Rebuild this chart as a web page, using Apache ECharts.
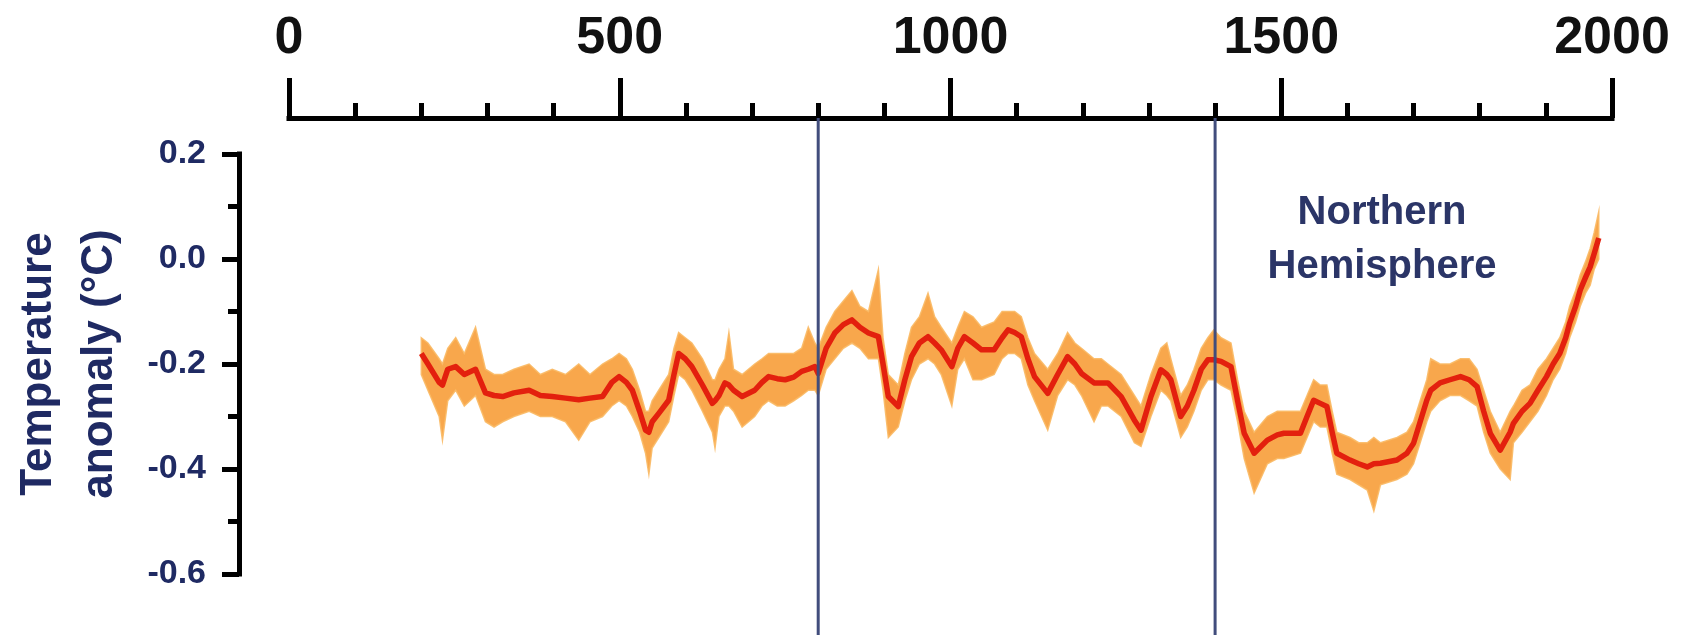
<!DOCTYPE html>
<html>
<head>
<meta charset="utf-8">
<script src="https://cdn.jsdelivr.net/npm/echarts@6/dist/echarts.min.js"></script>
<style>
  html, body { margin: 0; padding: 0; background: #ffffff; }
  #chart { width: 1691px; height: 635px; }
</style>
</head>
<body>
<div id="chart"></div>
<script>
// ---- Data ----
const years = [
  200,210,227,232,240,252,265,282,297,310,
  323,340,363,380,398,418,438,455,474,488,
  499,510,519,530,539,544,549,559,574,582,
  589,599,609,625,640,644,650,659,665,672,
  685,704,715,725,738,750,763,775,785,795,
  800,812,825,838,851,863,876,891,898,906,
  921,931,941,953,966,976,986,1002,1011,1021,
  1034,1047,1066,1078,1087,1097,1107,1117,1127,1147,
  1162,1177,1188,1198,1217,1228,1238,1258,1278,1288,
  1303,1318,1327,1333,1348,1358,1368,1379,1389,1398,
  1409,1424,1434,1444,1459,1479,1494,1504,1529,1539,
  1549,1559,1569,1577,1584,1604,1617,1630,1640,1650,
  1675,1690,1700,1710,1720,1726,1740,1755,1771,1784,
  1796,1806,1816,1831,1846,1851,1864,1876,1888,1901,
  1911,1921,1930,1936,1945,1952,1960,1967,1973,1980
];
const anomaly = [
  -0.18,-0.20,-0.235,-0.24,-0.21,-0.205,-0.22,-0.21,-0.255,-0.26,
  -0.262,-0.255,-0.25,-0.26,-0.262,-0.265,-0.268,-0.265,-0.262,-0.235,
  -0.224,-0.235,-0.25,-0.29,-0.326,-0.33,-0.31,-0.294,-0.269,-0.22,
  -0.18,-0.19,-0.205,-0.24,-0.275,-0.27,-0.26,-0.236,-0.24,-0.25,
  -0.262,-0.25,-0.235,-0.224,-0.228,-0.23,-0.225,-0.214,-0.21,-0.205,
  -0.218,-0.17,-0.141,-0.125,-0.116,-0.13,-0.141,-0.148,-0.20,-0.262,
  -0.281,-0.23,-0.186,-0.16,-0.148,-0.16,-0.173,-0.205,-0.17,-0.148,
  -0.16,-0.173,-0.173,-0.15,-0.135,-0.14,-0.148,-0.19,-0.224,-0.256,
  -0.22,-0.186,-0.20,-0.218,-0.236,-0.236,-0.236,-0.262,-0.307,-0.326,
  -0.262,-0.211,-0.22,-0.23,-0.30,-0.28,-0.25,-0.21,-0.192,-0.192,
  -0.195,-0.205,-0.27,-0.332,-0.37,-0.345,-0.335,-0.332,-0.332,-0.30,
  -0.269,-0.275,-0.281,-0.33,-0.37,-0.383,-0.39,-0.396,-0.39,-0.389,
  -0.383,-0.37,-0.351,-0.31,-0.269,-0.25,-0.236,-0.23,-0.224,-0.23,
  -0.243,-0.29,-0.332,-0.364,-0.33,-0.313,-0.29,-0.275,-0.25,-0.224,
  -0.20,-0.18,-0.15,-0.122,-0.09,-0.059,-0.035,-0.015,0.01,0.04
];
const bandUpper = [
  -0.15,-0.16,-0.19,-0.20,-0.17,-0.15,-0.18,-0.13,-0.21,-0.22,
  -0.22,-0.21,-0.20,-0.22,-0.21,-0.22,-0.20,-0.22,-0.20,-0.19,
  -0.18,-0.19,-0.21,-0.25,-0.29,-0.29,-0.27,-0.25,-0.22,-0.17,
  -0.14,-0.15,-0.16,-0.19,-0.23,-0.23,-0.21,-0.19,-0.14,-0.21,
  -0.22,-0.20,-0.19,-0.18,-0.18,-0.18,-0.18,-0.17,-0.13,-0.16,
  -0.17,-0.13,-0.10,-0.08,-0.06,-0.09,-0.10,-0.02,-0.15,-0.22,
  -0.24,-0.18,-0.13,-0.11,-0.065,-0.11,-0.13,-0.16,-0.13,-0.10,
  -0.11,-0.13,-0.12,-0.10,-0.10,-0.10,-0.11,-0.15,-0.18,-0.21,
  -0.18,-0.14,-0.16,-0.17,-0.19,-0.19,-0.20,-0.22,-0.26,-0.28,
  -0.22,-0.17,-0.16,-0.19,-0.26,-0.24,-0.21,-0.17,-0.15,-0.135,
  -0.15,-0.16,-0.23,-0.29,-0.33,-0.30,-0.29,-0.29,-0.29,-0.26,
  -0.23,-0.24,-0.24,-0.29,-0.33,-0.34,-0.35,-0.35,-0.34,-0.35,
  -0.34,-0.33,-0.31,-0.27,-0.23,-0.19,-0.20,-0.20,-0.19,-0.19,
  -0.21,-0.25,-0.29,-0.33,-0.29,-0.28,-0.25,-0.24,-0.21,-0.19,
  -0.17,-0.15,-0.12,-0.09,-0.06,-0.03,-0.005,0.02,0.05,0.09
];
const bandLower = [
  -0.22,-0.25,-0.30,-0.345,-0.27,-0.25,-0.28,-0.26,-0.31,-0.32,
  -0.31,-0.30,-0.29,-0.30,-0.30,-0.31,-0.345,-0.31,-0.30,-0.28,
  -0.27,-0.28,-0.30,-0.33,-0.37,-0.41,-0.36,-0.34,-0.31,-0.26,
  -0.22,-0.23,-0.25,-0.29,-0.33,-0.36,-0.30,-0.28,-0.28,-0.29,
  -0.32,-0.30,-0.28,-0.27,-0.28,-0.28,-0.27,-0.26,-0.25,-0.25,
  -0.26,-0.21,-0.19,-0.17,-0.16,-0.17,-0.19,-0.19,-0.25,-0.34,
  -0.32,-0.27,-0.23,-0.20,-0.19,-0.20,-0.22,-0.28,-0.21,-0.19,
  -0.23,-0.23,-0.22,-0.19,-0.18,-0.18,-0.19,-0.24,-0.27,-0.326,
  -0.26,-0.23,-0.24,-0.26,-0.31,-0.28,-0.28,-0.30,-0.35,-0.357,
  -0.30,-0.25,-0.26,-0.27,-0.34,-0.32,-0.29,-0.25,-0.23,-0.23,
  -0.24,-0.25,-0.31,-0.38,-0.446,-0.39,-0.38,-0.38,-0.37,-0.34,
  -0.31,-0.32,-0.32,-0.37,-0.41,-0.42,-0.43,-0.44,-0.48,-0.43,
  -0.42,-0.41,-0.39,-0.35,-0.31,-0.29,-0.27,-0.26,-0.26,-0.27,
  -0.28,-0.33,-0.37,-0.40,-0.42,-0.35,-0.33,-0.31,-0.29,-0.26,
  -0.23,-0.21,-0.18,-0.15,-0.12,-0.09,-0.065,-0.05,-0.02,0.00
];
const dividerYears = [800, 1400];
const yTitleLines = ['Temperature', 'anomaly (°C)'];
const regionLabelLines = ['Northern', 'Hemisphere'];

// ---- Layout / style constants ----
const X_AXIS_OFFSET = 36;
const Y_AXIS_OFFSET = 50;
const NAVY = '#1f2a63';
const FONT = '"Liberation Sans", Arial, sans-serif';

const centerData = years.map((y, i) => [y, anomaly[i]]);
const bandData = years.map((y, i) => [y, bandLower[i], bandUpper[i]]);

const chart = echarts.init(document.getElementById('chart'), null, { renderer: 'canvas' });

chart.setOption({
  animation: false,
  backgroundColor: '#ffffff',
  grid: { left: 286, right: 79, top: 154, bottom: 61, containLabel: false },
  xAxis: {
    type: 'value',
    position: 'top',
    offset: X_AXIS_OFFSET,
    min: 0, max: 2000, interval: 500,
    splitLine: { show: false },
    axisLine: { show: true, onZero: false, lineStyle: { color: '#000', width: 5, cap: 'square' } },
    axisTick: { show: true, inside: false, length: 40, lineStyle: { color: '#000', width: 5 } },
    minorTick: { show: true, splitNumber: 5, length: 15, lineStyle: { color: '#000', width: 5 } },
    axisLabel: {
      margin: 53,
      color: '#111',
      fontFamily: FONT,
      fontWeight: 'bold',
      fontSize: 52,
      formatter: v => String(v)
    }
  },
  yAxis: {
    type: 'value',
    position: 'left',
    offset: Y_AXIS_OFFSET,
    min: -0.6, max: 0.2, interval: 0.2,
    splitLine: { show: false },
    axisLine: { show: true, onZero: false, lineStyle: { color: '#000', width: 5, cap: 'square' } },
    axisTick: { show: true, inside: false, length: 17, lineStyle: { color: '#000', width: 5 } },
    minorTick: { show: true, splitNumber: 2, length: 11, lineStyle: { color: '#000', width: 5 } },
    axisLabel: {
      margin: 33,
      color: NAVY,
      fontFamily: FONT,
      fontWeight: 'bold',
      fontSize: 34,
      formatter: v => v.toFixed(1)
    },
    name: yTitleLines.join('\n'),
    nameLocation: 'middle',
    nameRotate: 90,
    nameGap: 109,
    nameTextStyle: {
      color: NAVY,
      fontFamily: FONT,
      fontWeight: 'bold',
      fontSize: 44,
      lineHeight: 61
    }
  },
  graphic: [{
    type: 'text',
    x: 1382, y: 240,
    style: {
      text: regionLabelLines.join('\n'),
      fill: '#2b3567',
      font: 'bold 40px "Liberation Sans", Arial, sans-serif',
      lineHeight: 54,
      align: 'center',
      verticalAlign: 'middle'
    }
  }],
  series: [
    {
      name: 'band',
      type: 'custom',
      data: bandData,
      encode: { x: 0, y: [1, 2] },
      silent: true,
      z: 2,
      renderItem: function (params, api) {
        if (params.dataIndex !== 0) return null;
        const top = bandData.map(d => api.coord([d[0], d[2]]));
        const bottom = bandData.map(d => api.coord([d[0], d[1]])).reverse();
        return {
          type: 'polygon',
          shape: { points: top.concat(bottom) },
          style: { fill: 'rgba(246,148,36,0.82)', stroke: 'rgba(250,185,100,0.9)', lineWidth: 1.5, lineJoin: 'miter' }
        };
      }
    },
    {
      name: 'anomaly',
      type: 'line',
      data: centerData,
      symbol: 'none',
      lineStyle: { width: 5.5, color: '#e3200e', join: 'round' },
      z: 4
    },
    {
      name: 'dividers',
      type: 'custom',
      data: dividerYears.map(y => [y]),
      encode: { x: 0 },
      clip: false,
      silent: true,
      z: 5,
      renderItem: function (params, api) {
        const x = api.coord([api.value(0), 0])[0];
        const top = params.coordSys.y - X_AXIS_OFFSET;
        const bottom = api.getHeight();
        return {
          type: 'line',
          shape: { x1: x, y1: top, x2: x, y2: bottom },
          style: { stroke: '#414d7c', lineWidth: 3 }
        };
      }
    }
  ]
});
</script>
</body>
</html>
